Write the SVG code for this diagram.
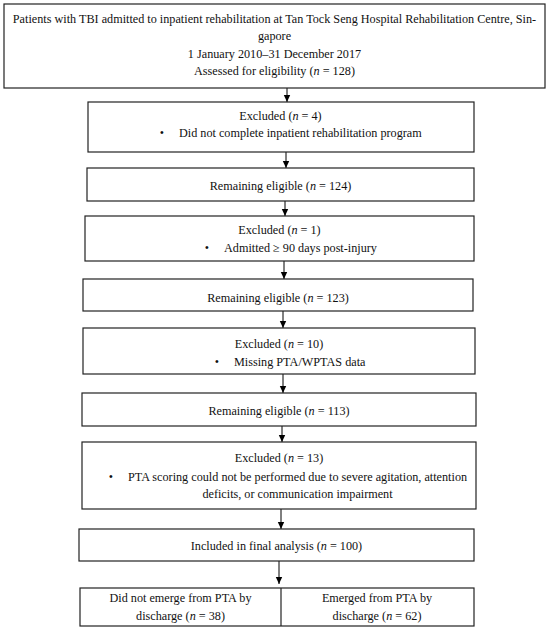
<svg xmlns="http://www.w3.org/2000/svg" width="550" height="631" viewBox="0 0 550 631">
<defs>
<marker id="ah" markerWidth="8" markerHeight="8" refX="7" refY="4" orient="auto" markerUnits="userSpaceOnUse">
<path d="M0,0.8 L7,4 L0,7.2 Z" fill="#000"/>
</marker>
<style>
.box{fill:#fff;stroke:#222;stroke-width:1.2}
.t{font-family:"Liberation Serif","Times New Roman",serif;font-size:12.2px;fill:#111;text-anchor:middle}
.s{text-anchor:start}
.c{stroke:#000;stroke-width:1;fill:none;marker-end:url(#ah)}
</style>
</defs>
<rect width="550" height="631" fill="#fff"/>
<g id="connectors">
<line class="c" x1="287" y1="88" x2="287" y2="102"/>
<line class="c" x1="286" y1="152" x2="286" y2="168"/>
<line class="c" x1="285" y1="201" x2="285" y2="216"/>
<line class="c" x1="284" y1="261" x2="284" y2="279"/>
<line class="c" x1="283" y1="311" x2="283" y2="328"/>
<line class="c" x1="283" y1="374" x2="283" y2="393"/>
<line class="c" x1="282" y1="426" x2="282" y2="442"/>
<line class="c" x1="281" y1="509" x2="281" y2="529"/>
<line class="c" x1="279" y1="561" x2="279" y2="584"/>
</g>
<g id="n1">
<rect class="box" x="4" y="4" width="541" height="84"/>
<text class="t" x="274.5" y="22.5">Patients with TBI admitted to inpatient rehabilitation at Tan Tock Seng Hospital Rehabilitation Centre, Sin-</text>
<text class="t" x="274.5" y="40">gapore</text>
<text class="t" x="274.5" y="57.5">1 January 2010–31 December 2017</text>
<text class="t" x="274.5" y="75">Assessed for eligibility (<tspan font-style="italic">n</tspan> = 128)</text>
</g>
<g id="n2">
<rect class="box" x="88" y="102" width="386" height="50"/>
<text class="t" x="280.5" y="120">Excluded (<tspan font-style="italic">n</tspan> = 4)</text>
<text class="t" x="162" y="137">•</text>
<text class="t s" x="179" y="137">Did not complete inpatient rehabilitation program</text>
</g>
<g id="n3">
<rect class="box" x="87" y="168" width="387" height="33"/>
<text class="t" x="280.5" y="190">Remaining eligible (<tspan font-style="italic">n</tspan> = 124)</text>
</g>
<g id="n4">
<rect class="box" x="85" y="216" width="389" height="45"/>
<text class="t" x="279.5" y="234">Excluded (<tspan font-style="italic">n</tspan> = 1)</text>
<text class="t" x="207" y="252">•</text>
<text class="t s" x="224" y="252">Admitted ≥ 90 days post-injury</text>
</g>
<g id="n5">
<rect class="box" x="83" y="279" width="390" height="32"/>
<text class="t" x="278" y="302">Remaining eligible (<tspan font-style="italic">n</tspan> = 123)</text>
</g>
<g id="n6">
<rect class="box" x="83" y="328" width="392" height="46"/>
<text class="t" x="279" y="348">Excluded (<tspan font-style="italic">n</tspan> = 10)</text>
<text class="t" x="217" y="366">•</text>
<text class="t s" x="234" y="366">Missing PTA/WPTAS data</text>
</g>
<g id="n7">
<rect class="box" x="82" y="393" width="394" height="33"/>
<text class="t" x="279" y="415">Remaining eligible (<tspan font-style="italic">n</tspan> = 113)</text>
</g>
<g id="n8">
<rect class="box" x="82" y="442" width="394" height="67"/>
<text class="t" x="279" y="462">Excluded (<tspan font-style="italic">n</tspan> = 13)</text>
<text class="t" x="111" y="481">•</text>
<text class="t" x="297.5" y="481">PTA scoring could not be performed due to severe agitation, attention</text>
<text class="t" x="297.5" y="498">deficits, or communication impairment</text>
</g>
<g id="n9">
<rect class="box" x="79" y="529" width="395" height="32"/>
<text class="t" x="276.5" y="550">Included in final analysis (<tspan font-style="italic">n</tspan> = 100)</text>
</g>
<g id="n10">
<rect class="box" x="80" y="588" width="394" height="38"/>
<line x1="281" y1="588" x2="281" y2="626" stroke="#222" stroke-width="1.2"/>
<text class="t" x="180.5" y="602">Did not emerge from PTA by</text>
<text class="t" x="180.5" y="620">discharge (<tspan font-style="italic">n</tspan> = 38)</text>
<text class="t" x="377" y="602">Emerged from PTA by</text>
<text class="t" x="377" y="620">discharge (<tspan font-style="italic">n</tspan> = 62)</text>
</g>
</svg>
